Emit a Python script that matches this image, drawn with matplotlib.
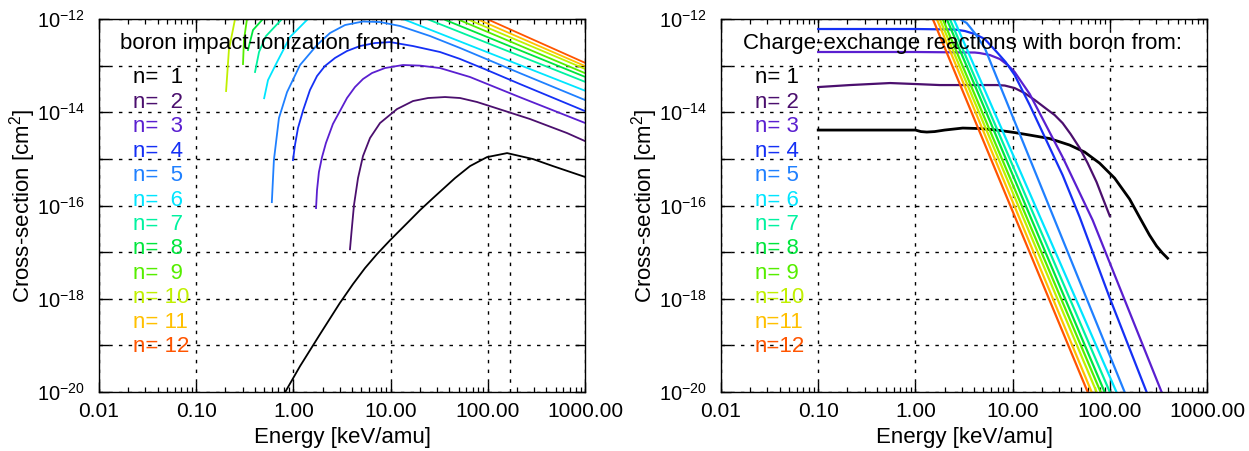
import numpy as np
import matplotlib
matplotlib.use('Agg')
import matplotlib.pyplot as plt
from matplotlib.ticker import FixedLocator, FixedFormatter, LogLocator, NullFormatter, NullLocator

plt.rcParams['font.family'] = ['Liberation Sans', 'DejaVu Sans']
plt.rcParams['mathtext.fontset'] = 'custom'
plt.rcParams['mathtext.rm'] = 'Liberation Sans'
plt.rcParams['mathtext.it'] = 'Liberation Sans:italic'
plt.rcParams['mathtext.bf'] = 'Liberation Sans:bold'

# ---------------- data ----------------
levels = [1, 2, 3, 4, 5, 6, 7, 8, 9, 10, 11, 12]
level_colors = ['#000000', '#4b0f6e', '#5a1fd0', '#1530f5', '#1f80ff', '#00e5ff',
                '#00f2a0', '#00e63c', '#55ee00', '#c0f000', '#ffc000', '#ff5500']

x_ticks = [0.01, 0.1, 1.0, 10.0, 100.0, 1000.0]
x_tick_labels = ['0.01', '0.10', '1.00', '10.00', '100.00', '1000.00']
y_ticks = [1e-20, 1e-19, 1e-18, 1e-17, 1e-16, 1e-15, 1e-14, 1e-13, 1e-12]
y_tick_labels = [r'$\mathregular{10^{-20}}$', '', r'$\mathregular{10^{-18}}$', '',
                 r'$\mathregular{10^{-16}}$', '', r'$\mathregular{10^{-14}}$', '',
                 r'$\mathregular{10^{-12}}$']
marker_energy = 170.0

# impact ionization (left panel)
ion_E_1 = [0.80, 1.17, 1.88, 3.0, 4.1, 5.45, 7.24, 9.9, 14.8, 20.1, 27.3, 46, 65.6, 98, 158,
           292, 468, 1000]
ion_S_1 = [9e-21, 3.58e-20, 1.74e-19, 8.05e-19, 2.06e-18, 4.54e-18, 9.06e-18, 1.81e-17,
           4.19e-17, 7.97e-17, 1.44e-16, 3.87e-16, 7.0e-16, 1.09e-15, 1.33e-15, 9.9e-16,
           7.0e-16, 4.1e-16]
ion_E_2 = [3.82, 3.96, 4.2, 4.62, 5.2, 6.14, 7.78, 11.64, 17.0, 24.3, 36.3, 51.8, 77.4, 113,
           272, 653, 1000]
ion_S_2 = [1.15e-17, 2.69e-17, 1.02e-16, 3.87e-16, 1.15e-15, 2.8e-15, 5.86e-15, 1.17e-14,
           1.74e-14, 2.02e-14, 2.12e-14, 2.02e-14, 1.66e-14, 1.29e-14, 7.15e-15, 3.58e-15, 2.41e-15]
ion_E_3 = [1.71, 1.75, 1.83, 1.97, 2.16, 2.55, 3.56, 4.3, 5.2, 6.44, 8.75, 13.4, 20.1, 32.2,
           65.6, 214, 1000]
ion_S_3 = [8.8e-17, 2.14e-16, 5.21e-16, 1.09e-15, 2.18e-15, 5.6e-15, 2.02e-14, 3.47e-14,
           5.16e-14, 6.94e-14, 8.88e-14, 1.03e-13, 1.0e-13, 8.88e-14, 5.7e-14, 2.1e-14, 5.9e-15]
ion_E_4 = [0.99, 1.038, 1.115, 1.26, 1.48, 1.75, 2.11, 2.68, 3.56, 4.84, 6.91, 9.9, 17.0,
           32.2, 51.8, 98, 214, 1000]
ion_S_4 = [9.4e-16, 1.98e-15, 4.58e-15, 1.11e-14, 2.99e-14, 5.98e-14, 9.8e-14, 1.46e-13,
           2.06e-13, 2.63e-13, 3.05e-13, 3.2e-13, 2.63e-13, 1.96e-13, 1.39e-13, 8.05e-14,
           4.03e-14, 1.06e-14]
ion_E_5 = [0.60, 0.63, 0.71, 0.86, 1.17, 1.75, 2.38, 3.4, 5.2, 7.8, 12.5, 25.4, 51.8, 214, 1000]
ion_S_5 = [1.18e-16, 9.4e-16, 7.5e-15, 2.7e-14, 1.03e-13, 2.77e-13, 5.0e-13, 7.43e-13,
           8.84e-13, 8.6e-13, 7.08e-13, 4.32e-13, 2.39e-13, 6.9e-14, 1.83e-14]
# n>=6: rising branch near threshold and falling branch at high energy (peak above plot)
ion_E_6_low = [0.50, 0.548, 0.678, 0.923, 1.41]
ion_S_6_low = [2.0e-14, 4.9e-14, 1.19e-13, 4.11e-13, 1.0e-12]
ion_E_7_low = [0.403, 0.443, 0.522, 0.764]
ion_S_7_low = [7.3e-14, 1.96e-13, 4.3e-13, 1.0e-12]
ion_E_8_low = [0.341, 0.384, 0.486]
ion_S_8_low = [2.16e-13, 5.8e-13, 1.0e-12]
ion_E_9_low = [0.303, 0.31, 0.333]
ion_S_9_low = [1.08e-13, 3.54e-13, 1.0e-12]
ion_E_10_low = [0.203, 0.217, 0.251]
ion_S_10_low = [2.85e-14, 2.16e-13, 1.0e-12]
ion_E_6_high = [13.4, 1000]
ion_S_6_high = [1.0e-12, 2.9e-14]
ion_E_7_high = [23.7, 1000]
ion_S_7_high = [1.0e-12, 4.5e-14]
ion_E_8_high = [34.6, 1000]
ion_S_8_high = [1.0e-12, 5.75e-14]
ion_E_9_high = [48.2, 1000]
ion_S_9_high = [1.0e-12, 6.9e-14]
ion_E_10_high = [61.1, 1000]
ion_S_10_high = [1.0e-12, 8.5e-14]
ion_E_11_high = [77.4, 1000]
ion_S_11_high = [1.0e-12, 9.8e-14]
ion_E_12_high = [98, 1000]
ion_S_12_high = [1.0e-12, 1.15e-13]

# charge exchange (right panel)
cx_E_1 = [0.1, 0.34, 1.0, 1.14, 1.31, 1.58, 2.0, 3.07, 4.59, 6.87, 10.5, 15.0, 24.0, 38.6,
          55.1, 78.5, 112, 160, 202, 256, 303, 349, 393]
cx_S_1 = [4.15e-15, 4.15e-15, 4.15e-15, 3.85e-15, 3.76e-15, 3.85e-15, 4.15e-15, 4.58e-15,
          4.47e-15, 4.15e-15, 3.67e-15, 3.24e-15, 2.73e-15, 1.98e-15, 1.4e-15, 8.1e-16,
          3.87e-16, 1.37e-16, 5.64e-17, 2.32e-17, 1.35e-17, 9.5e-18, 7.4e-18]
cx_E_2 = [0.1, 0.212, 0.55, 1.0, 1.78, 6.87, 8.3, 10.5, 13.3, 16.9, 22.4, 27.1, 32.7, 39.5,
          49, 59.2, 73.1, 86.3, 100]
cx_S_2 = [3.47e-14, 3.83e-14, 4.23e-14, 4.03e-14, 3.83e-14, 3.83e-14, 3.74e-14, 3.3e-14,
          2.58e-14, 1.83e-14, 1.17e-14, 8.7e-15, 5.86e-15, 3.41e-15, 1.71e-15, 8.1e-16,
          3.18e-16, 1.3e-16, 5.93e-17]
cx_E_3 = [0.1, 1.0, 4.08, 4.59, 5.82, 7.37, 8.91, 10.5, 15, 32.7, 66.6, 341]
cx_S_3 = [1.96e-13, 1.96e-13, 1.91e-13, 1.86e-13, 1.69e-13, 1.39e-13, 1.03e-13, 7.29e-14,
          2.46e-14, 1.09e-15, 4.86e-17, 1.0e-20]
cx_E_4 = [0.1, 1.0, 2.54, 3.22, 4.08, 5.17, 6.87, 8.49, 10.5, 15, 32.7, 49, 100, 239]
cx_S_4 = [6.1e-13, 6.1e-13, 5.95e-13, 5.53e-13, 4.77e-13, 3.72e-13, 1.96e-13, 1.19e-13,
          6.28e-14, 1.43e-14, 4.49e-16, 5.64e-17, 1.03e-18, 1.0e-20]
cx_E_5 = [2.5, 2.86, 3.37, 4.08, 5.17, 142]
cx_S_5 = [1.1e-12, 1.0e-12, 8.2e-13, 5.0e-13, 2.39e-13, 1.0e-20]
cx_E_6 = [2.48, 117]
cx_E_7 = [2.26, 100]
cx_E_8 = [2.10, 88.4]
cx_E_9 = [1.91, 80.4]
cx_E_10 = [1.78, 73.1]
cx_E_11 = [1.66, 65.0]
cx_E_12 = [1.51, 59.2]
cx_S_6to12 = [1.0e-12, 1.0e-20]

left_title = 'boron impact-ionization from:'
right_title = 'Charge-exchange reactions with boron from:'
left_legend = ['n=  1', 'n=  2', 'n=  3', 'n=  4', 'n=  5', 'n=  6', 'n=  7', 'n=  8',
               'n=  9', 'n= 10', 'n= 11', 'n= 12']
right_legend = ['n= 1', 'n= 2', 'n= 3', 'n= 4', 'n= 5', 'n= 6', 'n= 7', 'n= 8',
                'n= 9', 'n=10', 'n=11', 'n=12']

# ---------------- figure ----------------
W, H = 1249, 451
fig = plt.figure(figsize=(W / 100, H / 100), dpi=100)
fig.patch.set_facecolor('white')
axL = fig.add_axes([99 / W, 1 - 392 / H, 486 / W, 373 / H])
axR = fig.add_axes([721 / W, 1 - 392 / H, 486 / W, 373 / H])

grid_style = dict(color='black', linestyle=(0, (2.5, 4.5)), linewidth=1.0)


def style(ax):
    ax.set_xscale('log')
    ax.set_yscale('log')
    ax.set_xlim(0.01, 1000)
    ax.set_ylim(1e-20, 1e-12)
    ax.xaxis.set_major_locator(FixedLocator(x_ticks))
    ax.xaxis.set_major_formatter(FixedFormatter(x_tick_labels))
    ax.xaxis.set_minor_locator(LogLocator(base=10, subs=np.arange(2, 10), numticks=30))
    ax.xaxis.set_minor_formatter(NullFormatter())
    ax.yaxis.set_major_locator(FixedLocator(y_ticks))
    ax.yaxis.set_major_formatter(FixedFormatter(y_tick_labels))
    ax.yaxis.set_minor_locator(NullLocator())
    ax.tick_params(which='both', direction='in', top=True, right=True, color='black')
    ax.tick_params(which='major', length=7, width=1.0)
    ax.tick_params(which='minor', length=3.5, width=0.9)
    ax.tick_params(axis='x', which='major', labelsize=15, pad=7)
    ax.tick_params(axis='y', which='major', labelsize=14.5, pad=10)
    ax.grid(True, which='major', **grid_style)
    for s in ax.spines.values():
        s.set_linewidth(1.0)
        s.set_zorder(5)
    ax.set_xlabel('Energy [keV/amu]', fontsize=16)
    ax.set_ylabel('Cross-section [cm$^2$]', fontsize=16)
    ax.xaxis.set_label_coords(0.5, -0.123)
    ax.xaxis.label.set_va('center')
    ax.yaxis.set_label_coords(-0.158, 0.5)
    ax.yaxis.label.set_va('center')


style(axL)
style(axR)
axL.axvline(marker_energy, **grid_style)

lwL = 1.3
ion_full = [(ion_E_1, ion_S_1), (ion_E_2, ion_S_2), (ion_E_3, ion_S_3),
            (ion_E_4, ion_S_4), (ion_E_5, ion_S_5)]
for i, (e, s) in enumerate(ion_full):
    axL.plot(e, s, color=level_colors[i], lw=lwL)
ion_low = {6: (ion_E_6_low, ion_S_6_low), 7: (ion_E_7_low, ion_S_7_low),
           8: (ion_E_8_low, ion_S_8_low), 9: (ion_E_9_low, ion_S_9_low),
           10: (ion_E_10_low, ion_S_10_low)}
ion_high = {6: (ion_E_6_high, ion_S_6_high), 7: (ion_E_7_high, ion_S_7_high),
            8: (ion_E_8_high, ion_S_8_high), 9: (ion_E_9_high, ion_S_9_high),
            10: (ion_E_10_high, ion_S_10_high), 11: (ion_E_11_high, ion_S_11_high),
            12: (ion_E_12_high, ion_S_12_high)}
for n, (e, s) in ion_low.items():
    axL.plot(e, s, color=level_colors[n - 1], lw=lwL)
for n, (e, s) in ion_high.items():
    axL.plot(e, s, color=level_colors[n - 1], lw=lwL)

lwR = 1.6
cx_curves = [(cx_E_1, cx_S_1), (cx_E_2, cx_S_2), (cx_E_3, cx_S_3), (cx_E_4, cx_S_4),
             (cx_E_5, cx_S_5), (cx_E_6, cx_S_6to12), (cx_E_7, cx_S_6to12),
             (cx_E_8, cx_S_6to12), (cx_E_9, cx_S_6to12), (cx_E_10, cx_S_6to12),
             (cx_E_11, cx_S_6to12), (cx_E_12, cx_S_6to12)]
for i, (e, s) in enumerate(cx_curves):
    axR.plot(e, s, color=level_colors[i], lw=(2.0 if i == 0 else lwR))

# texts
for ax, title, legend in [(axL, left_title, left_legend), (axR, right_title, right_legend)]:
    tx = 0.043 if ax is axL else 0.045
    ax.text(tx, 0.9196, title, transform=ax.transAxes, fontsize=16, va='baseline', ha='left')
    for i, lab in enumerate(legend):
        ax.text(0.07, 0.828 - i * 0.0656, lab, transform=ax.transAxes, fontsize=16,
                va='baseline', ha='left', color=level_colors[i])

fig.savefig('out.png', dpi=100, facecolor='white')
